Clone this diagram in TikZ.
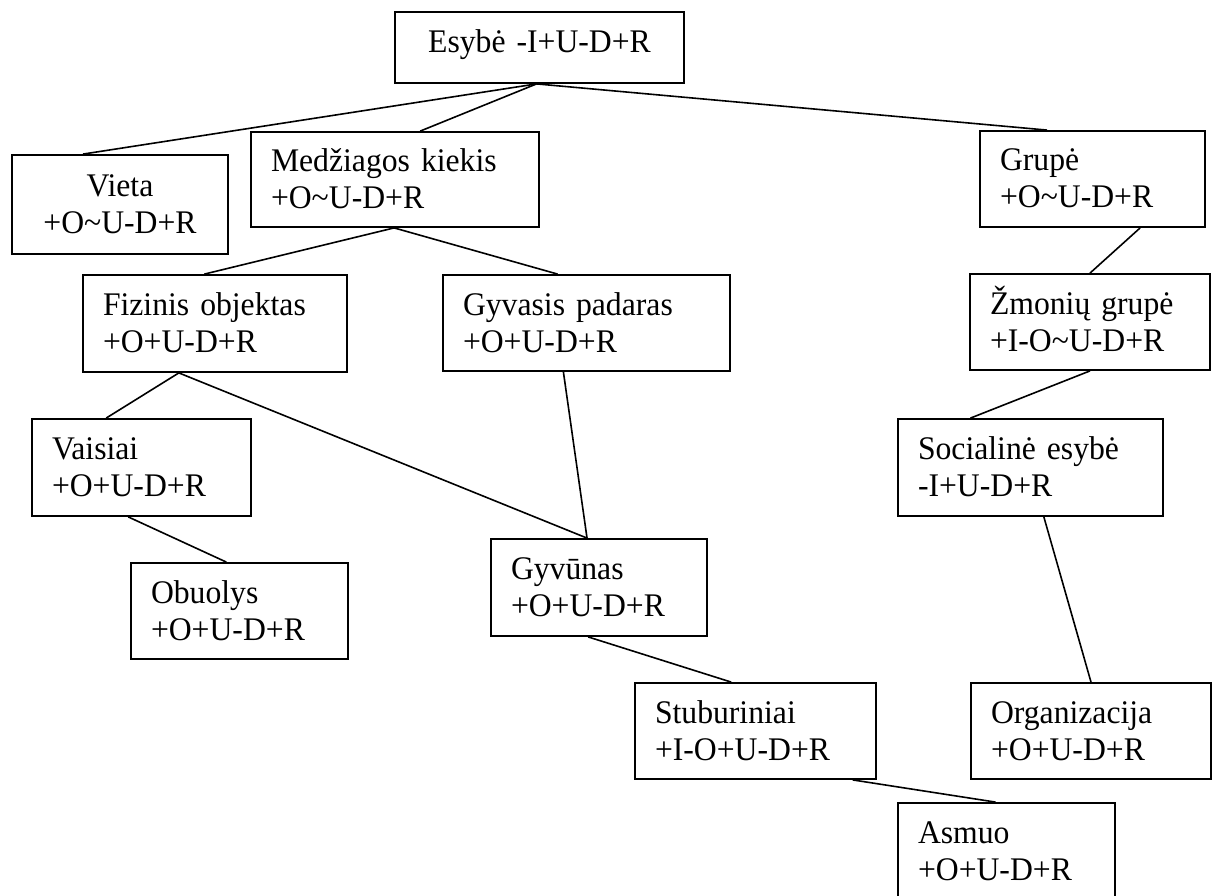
\documentclass[tikz,border=0pt]{standalone}
\usepackage{fontspec}
\setmainfont[FakeStretch=0.96]{Liberation Serif}
\usetikzlibrary{calc}
\tikzset{
  box/.style={draw, line width=1.8pt, inner xsep=20pt, inner ysep=0pt, align=left,
    font=\fontsize{33}{37}\selectfont, text height=21.5pt, text depth=37.5pt},
  cbox/.style={box, align=center},
  conn/.style={line width=1.6pt}
}
\newcommand{\conlink}[4]{\draw[conn] ($(#1.south west)!#2!(#1.south east)$) -- ($(#3.north west)!#4!(#3.north east)$);}
\begin{document}
\begin{tikzpicture}[x=1pt,y=-1pt]
\useasboundingbox (0,0) rectangle (1218,896);

\node[cbox, text height=15pt, text depth=5pt, minimum width=289pt, minimum height=71pt, text width=249pt] (esy) at (539.5,47.5) {Esybė -I+U-D+R};
\node[cbox, minimum width=216pt, minimum height=99pt, text width=176pt] (vie) at (120,204.5) {Vieta\\+O\char`~U-D+R};
\node[box, minimum width=288pt, minimum height=95pt, text width=248pt] (med) at (395,179.5) {Medžiagos kiekis\\+O\char`~U-D+R};
\node[box, minimum width=225pt, minimum height=96pt, text width=185pt] (gru) at (1092.5,179) {Grupė\\+O\char`~U-D+R};
\node[box, minimum width=264pt, minimum height=97pt, text width=224pt] (fiz) at (215,323.5) {Fizinis objektas\\+O+U-D+R};
\node[box, minimum width=287pt, minimum height=96pt, text width=247pt] (gyv) at (586.5,323) {Gyvasis padaras\\+O+U-D+R};
\node[box, minimum width=240pt, minimum height=96pt, text width=200pt] (zmo) at (1090,322) {Žmonių grupė\\+I-O\char`~U-D+R};
\node[box, minimum width=219pt, minimum height=97pt, text width=179pt] (vai) at (141.5,467.5) {Vaisiai\\+O+U-D+R};
\node[box, minimum width=265pt, minimum height=97pt, text width=225pt] (soc) at (1030.5,467.5) {Socialinė esybė\\-I+U-D+R};
\node[box, minimum width=217pt, minimum height=96pt, text width=177pt] (obu) at (239.5,611) {Obuolys\\+O+U-D+R};
\node[box, minimum width=216pt, minimum height=97pt, text width=176pt] (gyu) at (599,587.5) {Gyvūnas\\+O+U-D+R};
\node[box, minimum width=241pt, minimum height=96pt, text width=201pt] (stu) at (755.5,731) {Stuburiniai\\+I-O+U-D+R};
\node[box, minimum width=240pt, minimum height=96pt, text width=200pt] (org) at (1091,731) {Organizacija\\+O+U-D+R};
\node[box, minimum width=217pt, minimum height=97pt, text width=177pt] (asm) at (1006.5,851.5) {Asmuo\\+O+U-D+R};

\conlink{esy}{0.49}{vie}{0.33}
\conlink{esy}{0.49}{med}{0.587}
\conlink{esy}{0.49}{gru}{0.30}
\conlink{med}{0.497}{fiz}{0.46}
\conlink{med}{0.497}{gyv}{0.40}
\conlink{fiz}{0.364}{vai}{0.34}
\conlink{fiz}{0.364}{gyu}{0.445}
\conlink{gyv}{0.42}{gyu}{0.445}
\conlink{vai}{0.44}{obu}{0.44}
\conlink{gyu}{0.45}{stu}{0.40}
\conlink{stu}{0.90}{asm}{0.45}
\conlink{gru}{0.71}{zmo}{0.50}
\conlink{zmo}{0.50}{soc}{0.275}
\conlink{soc}{0.55}{org}{0.50}
\end{tikzpicture}
\end{document}
